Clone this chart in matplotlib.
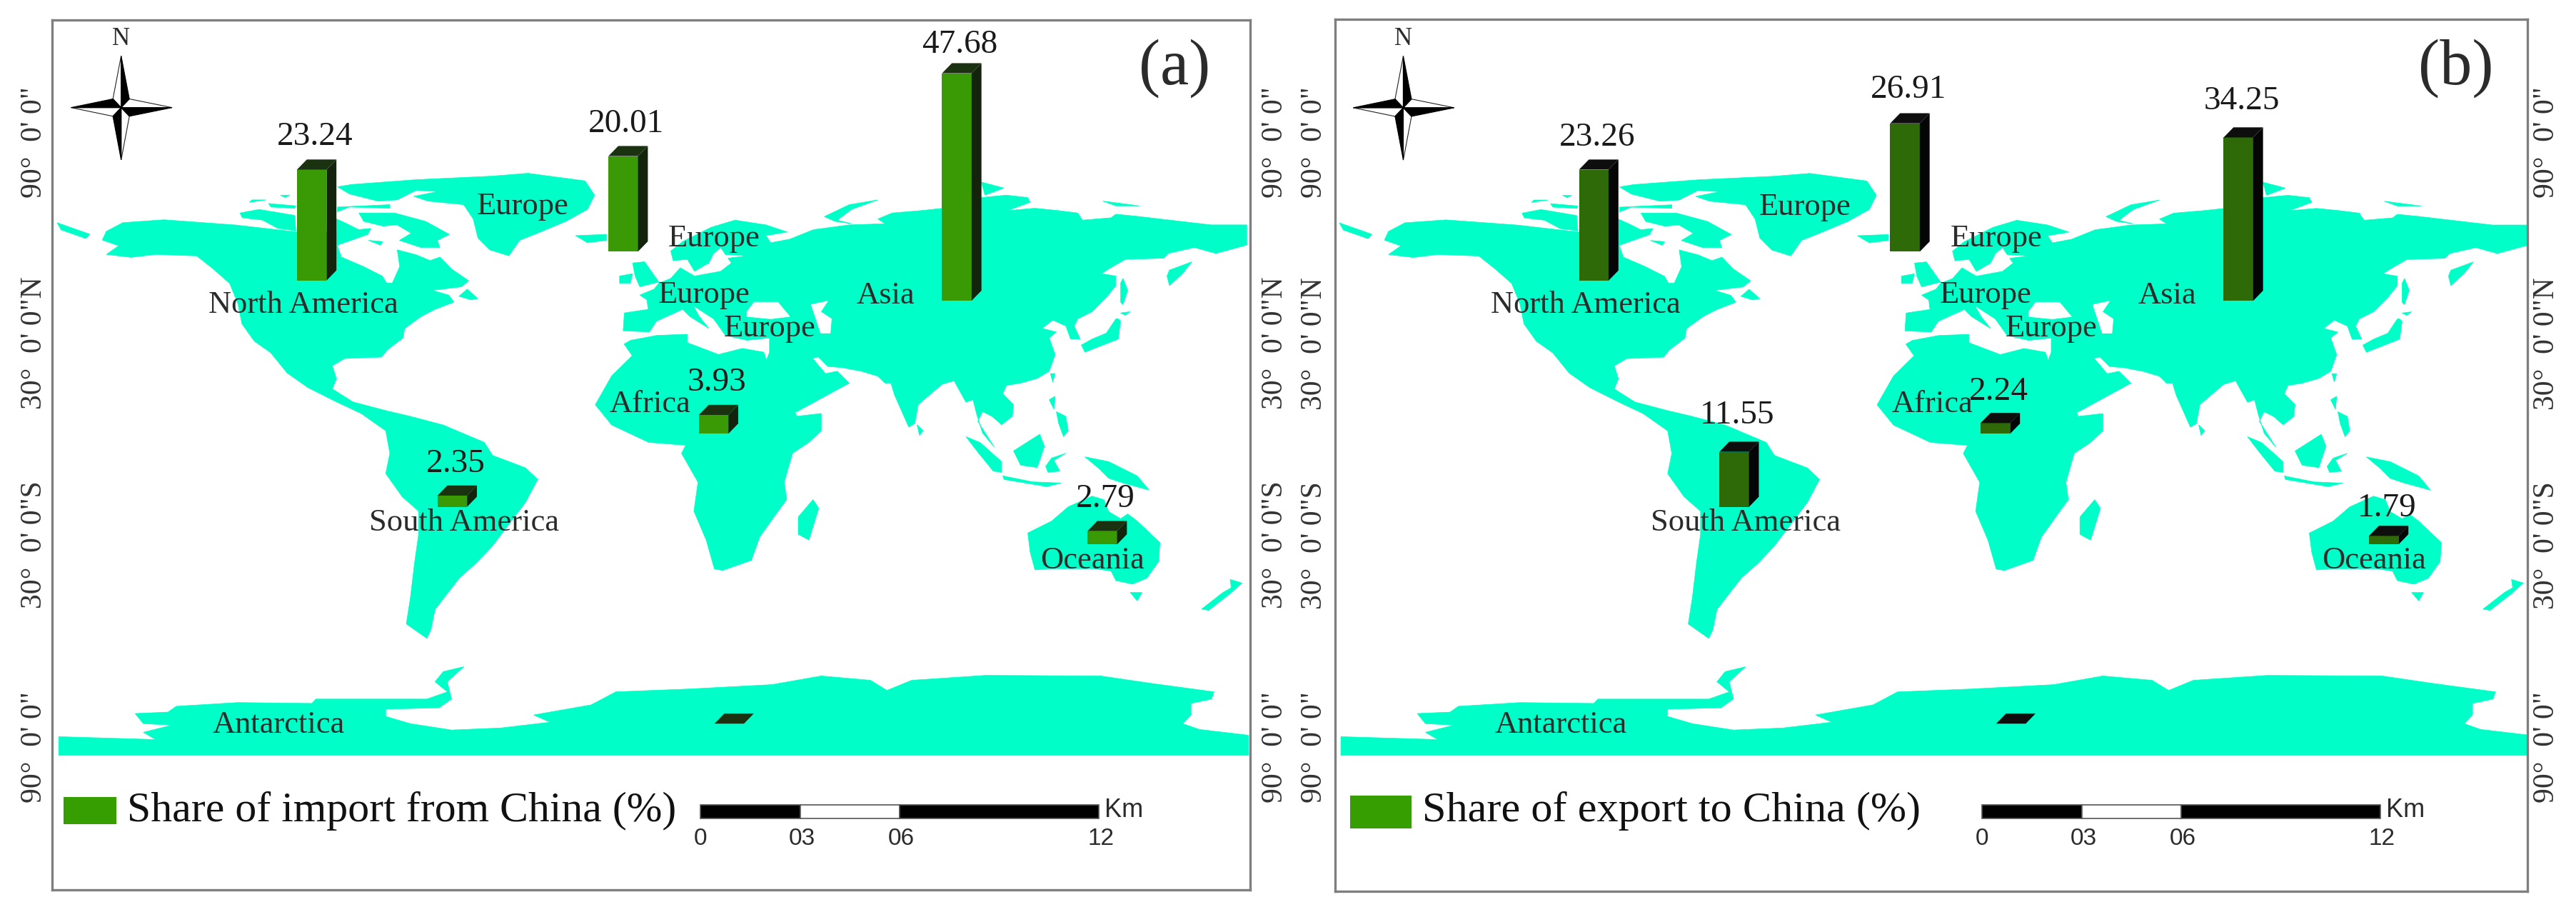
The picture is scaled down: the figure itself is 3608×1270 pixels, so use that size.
import matplotlib
matplotlib.use("Agg")
import matplotlib.pyplot as plt
from matplotlib.patches import Polygon, Rectangle

plt.rcParams["font.family"] = ["Liberation Serif", "DejaVu Serif"]

# chart values
regions = ["North America", "Europe", "Asia", "Africa", "South America", "Oceania", "Antarctica"]
import_share = [23.24, 20.01, 47.68, 3.93, 2.35, 2.79, 0.0]
export_share = [23.26, 26.91, 34.25, 2.24, 11.55, 1.79, 0.0]
import_labels = ["23.24", "20.01", "47.68", "3.93", "2.35", "2.79", ""]
export_labels = ["23.26", "26.91", "34.25", "2.24", "11.55", "1.79", ""]
lat_labels = ["90°  0' 0\"", "30°  0' 0\"N", "30°  0' 0\"S", "90°  0' 0\""]
scale_labels = ["0", "03", "06", "12"]
scale_stops = [0, 3, 6, 12]
place_names = ["North America", "Europe", "Europe", "Europe", "Europe", "Asia", "Africa",
               "South America", "Oceania", "Antarctica"]

# map layout, units are map units of the traced outline (x 64-1522, y 69-3078)
BAR_X = [362, 741, 1147, 851, 533, 1324, 870]
BAR_BASE = [970, 870, 1040, 1500, 1753, 1883, 2503]
UNITS_PER_PCT = 16.5
BAR_W, DEPTH_X, DEPTH_Y = 36, 12, 35
LAT_Y = [492, 1187, 1885, 2585]
PLACE_X = [370, 637, 870, 857, 937, 1078, 792, 565, 1330, 340]
PLACE_Y = [1055, 715, 825, 1020, 1135, 1022, 1397, 1808, 1938, 2508]


def traced(x0, y0, pts):
    return [(0.869 * (x0 + x / 3), 2.469 * (y0 + y / 3)) for x, y in pts]


AMERICAS = [
    (130, 800), (150, 770), (200, 760), (287, 778), (361, 802), (410, 802), (410, 757), (423, 774),
    (437, 794), (452, 790), (448, 811), (411, 848), (416, 889), (443, 922), (466, 955), (471, 979),
    (478, 979), (487, 922), (484, 864), (507, 881), (524, 901), (536, 889), (550, 930), (571, 971),
    (562, 992), (527, 1004), (547, 1021), (553, 1045), (530, 1070), (513, 1095), (493, 1136),
    (491, 1169), (472, 1210), (465, 1235), (420, 1240), (405, 1265), (410, 1310), (405, 1345),
    (430, 1390), (470, 1420), (500, 1440), (540, 1470), (590, 1530), (600, 1575), (640, 1618),
    (655, 1658), (640, 1738), (600, 1888), (580, 1948), (560, 1998), (530, 2108), (525, 2178),
    (520, 2208), (495, 2158), (500, 2068), (505, 1948), (510, 1848), (510, 1768), (490, 1718),
    (470, 1638), (475, 1568), (470, 1490), (440, 1430), (410, 1390), (375, 1340), (350, 1290),
    (330, 1220), (310, 1180), (295, 1120), (290, 1050), (280, 980), (260, 930), (240, 885),
    (190, 880), (160, 890), (130, 880), (145, 850), (125, 830),
]
# crop at (330, 230)
GREENLAND = traced(330, 230, [
    (490, 85), (760, 65), (1080, 50), (1230, 38), (1470, 70), (1510, 130), (1480, 190), (1390, 240),
    (1270, 290), (1195, 320), (1150, 385), (1070, 360), (1020, 310), (1000, 230), (960, 170), (810, 155),
    (750, 135), (850, 115), (760, 110), (680, 150), (600, 155), (480, 125), (430, 95)])
ARCTIC_CANADA = [traced(330, 230, pts) for pts in [
    [(20, 205), (100, 190), (250, 215), (255, 280), (180, 270), (115, 235), (30, 225)],
    [(70, 150), (130, 150), (60, 160)],
    [(140, 165), (255, 175), (250, 185), (150, 180)],
    [(190, 130), (230, 130), (210, 140)],
    [(430, 180), (650, 170), (650, 185), (480, 180), (430, 200)],
    [(520, 205), (670, 205), (800, 240), (900, 295), (850, 320), (860, 350), (780, 350), (690, 320),
     (740, 290), (680, 255), (620, 260), (540, 240)],
    [(560, 320), (620, 325), (610, 340)],
    [(940, 555), (975, 525), (1020, 565), (990, 570)],
    [(1430, 300), (1560, 295), (1560, 320), (1480, 330)],
]]
# crop at (840, 280): Europe and the Middle East
EURASIA_WEST = traced(840, 280, [
    (1200, 100), (1050, 105), (900, 125), (800, 165), (720, 180), (700, 150), (790, 135), (700, 105),
    (570, 85), (470, 115), (350, 175), (300, 215), (310, 255), (370, 250), (400, 300), (460, 265),
    (480, 225), (510, 200), (530, 230), (620, 235), (540, 245), (555, 265), (510, 300), (400, 320),
    (340, 285), (300, 330), (250, 350), (230, 375), (170, 400), (200, 420), (205, 460), (105, 475),
    (100, 550), (210, 555), (240, 510), (350, 460), (380, 490), (460, 540), (420, 490), (395, 445),
    (480, 500), (530, 570), (620, 590), (715, 580), (715, 640), (700, 680), (820, 890), (830, 890),
    (1050, 770), (1000, 720), (950, 730), (895, 665), (920, 660), (960, 700), (1020, 705), (1100, 720),
    (1170, 741)])
# crop at (1230, 230): east and south Asia
EURASIA_EAST = traced(1230, 230, [
    (30, 920), (55, 920), (70, 970), (130, 1105), (155, 1090), (170, 1010), (270, 925), (320, 910),
    (370, 1000), (400, 990), (415, 1050), (440, 1130), (490, 1190), (420, 1080), (440, 1040), (480, 1060),
    (520, 1095), (565, 1060), (570, 1010), (525, 965), (540, 930), (600, 920), (670, 900), (720, 870),
    (745, 800), (720, 730), (750, 705), (690, 690), (735, 655), (790, 680), (810, 735), (850, 735),
    (825, 680), (840, 650), (900, 620), (960, 560), (1000, 510), (1000, 470), (940, 460), (970, 440),
    (1040, 400), (1200, 395), (1220, 375), (1330, 350), (1420, 375), (1550, 340), (1550, 255), (1400, 255),
    (1270, 240), (1100, 220), (1000, 210), (980, 225), (860, 235), (840, 205), (760, 195), (660, 185),
    (545, 195), (640, 160), (630, 140), (540, 130), (435, 140), (420, 170), (180, 195), (60, 205), (0, 230)])
ASIA_ISLANDS = [traced(1230, 230, pts) for pts in [
    [(1320, 410), (1225, 445), (1215, 470), (1225, 510), (1280, 460)],
    [(855, 760), (870, 790), (1010, 735), (1020, 660), (1010, 650), (1000, 650), (960, 710), (900, 735)],
    [(1020, 625), (1060, 620), (1040, 635)],
    [(1030, 480), (1050, 530), (1030, 590), (1020, 580), (1020, 500)],
    [(725, 880), (745, 880), (735, 915)],
    [(720, 990), (745, 975), (740, 1030)],
    [(750, 1040), (790, 1060), (800, 1120), (780, 1145), (760, 1090)],
    [(165, 1095), (190, 1120), (175, 1140)],
    [(435, 75), (530, 100), (450, 130)],
    [(945, 155), (1100, 175), (1000, 175)],
]]
EUROPE_ISLANDS = [traced(840, 280, pts) for pts in [
    [(140, 265), (190, 260), (250, 345), (170, 365), (150, 320)],
    [(85, 320), (140, 310), (130, 350), (85, 350)],
    [(945, 70), (1050, 20), (1170, 0), (1060, 40), (1000, 85), (1060, 100), (990, 90)],
]]
AFRICA = [
    (768, 1177), (800, 1160), (837, 1156), (837, 1185), (875, 1226), (904, 1205), (930, 1218), (935, 1260),
    (965, 1400), (970, 1440), (1000, 1430), (1000, 1490), (985, 1530), (965, 1568), (955, 1668), (958, 1728),
    (945, 1778), (925, 1858), (915, 1938), (880, 1973), (870, 1968), (860, 1868), (845, 1768), (850, 1668),
    (830, 1568), (835, 1540), (790, 1530), (745, 1470), (725, 1400), (745, 1300), (770, 1230), (760, 1190),
]
SOUTH_ISLANDS = [
    [(990, 1728), (997, 1758), (985, 1868), (972, 1848), (972, 1788)],
    [(70, 770), (110, 810), (105, 825), (75, 795)],
]
# crop at (1340, 560): Indonesia and Australia
OCEANIA = [traced(1340, 560, pts) for pts in [
    [(40, 155), (100, 180), (190, 260), (190, 305), (155, 300), (90, 220)],
    [(195, 320), (320, 345), (440, 350), (380, 365), (200, 335)],
    [(240, 215), (350, 145), (370, 195), (340, 285), (270, 275)],
    [(375, 280), (400, 245), (460, 225), (410, 255), (435, 300), (385, 305)],
    [(540, 240), (640, 260), (760, 320), (810, 380), (700, 350), (640, 330), (600, 290)],
    [(300, 560), (400, 510), (470, 450), (570, 405), (620, 420), (640, 470), (690, 500), (720, 480),
     (760, 510), (855, 600), (850, 680), (800, 750), (740, 775), (670, 760), (650, 720), (580, 710),
     (400, 710), (330, 715), (310, 640)],
    [(730, 810), (780, 810), (760, 845)],
    [(1150, 755), (1200, 770), (1150, 815), (1060, 885), (1030, 880), (1120, 810), (1155, 790)],
]]
ANTARCTICA = [
    (72, 2548), (190, 2558), (175, 2533), (210, 2508), (175, 2503), (165, 2468), (205, 2463),
    (215, 2443), (290, 2430), (380, 2433), (385, 2418), (470, 2418), (520, 2418), (545, 2393),
    (530, 2358), (540, 2323), (565, 2306), (545, 2358), (550, 2418), (535, 2448), (470, 2453),
    (470, 2478), (500, 2503), (550, 2525), (610, 2518), (670, 2498), (650, 2473), (720, 2438),
    (750, 2393), (840, 2383), (940, 2368), (1000, 2338), (1060, 2353), (1080, 2388), (1110, 2353),
    (1200, 2336), (1340, 2338), (1400, 2363), (1478, 2393), (1475, 2418), (1450, 2433), (1450, 2473),
    (1440, 2503), (1460, 2523), (1520, 2543), (1520, 2613), (72, 2613),
]
LAND = ([AMERICAS, GREENLAND, EURASIA_WEST + EURASIA_EAST, AFRICA, ANTARCTICA]
        + ARCTIC_CANADA + ASIA_ISLANDS + EUROPE_ISLANDS + SOUTH_ISLANDS + OCEANIA)
# inland water drawn over the land
SEAS = [traced(840, 280, pts) for pts in [
    [(620, 470), (650, 430), (750, 430), (800, 490), (720, 500), (620, 490)],
    [(890, 440), (960, 425), (930, 470), (975, 500), (970, 560), (930, 560)],
]]

LAND_COLOR = "#00FFC8"
FRAME_COLOR = "#7F7F7F"
TEXT_COLOR = "#2B2B2B"


def draw_bar(ax, x, base, value, front, side, top):
    h = value * UNITS_PER_PCT
    y = base - h
    if h > 0:
        ax.add_patch(Polygon([(x, base), (x + BAR_W, base), (x + BAR_W, y), (x, y)], color=front, lw=0, zorder=5))
        ax.add_patch(Polygon([(x + BAR_W, base), (x + BAR_W + DEPTH_X, base - DEPTH_Y),
                              (x + BAR_W + DEPTH_X, y - DEPTH_Y), (x + BAR_W, y)], color=side, lw=0, zorder=5))
    ax.add_patch(Polygon([(x, y), (x + BAR_W, y), (x + BAR_W + DEPTH_X, y - DEPTH_Y), (x + DEPTH_X, y - DEPTH_Y)],
                         color=top, lw=0, zorder=5))
    return y - DEPTH_Y


def draw_compass(ax):
    cx, cy = 148, 372
    dx, dy = 10, 30
    arms = [
        [(cx, 193), (cx + dx, cy - dy), (cx, cy)],
        [(210, cy), (cx + dx, cy + dy), (cx, cy)],
        [(cx, 553), (cx - dx, cy + dy), (cx, cy)],
        [(87, cy), (cx - dx, cy - dy), (cx, cy)],
    ]
    hollow = [
        [(cx, 193), (cx - dx, cy - dy), (cx, cy)],
        [(210, cy), (cx + dx, cy - dy), (cx, cy)],
        [(cx, 553), (cx + dx, cy + dy), (cx, cy)],
        [(87, cy), (cx - dx, cy + dy), (cx, cy)],
    ]
    for pts in hollow:
        ax.add_patch(Polygon(pts, fc="white", ec="#222222", lw=0.8, zorder=6))
    for pts in arms:
        ax.add_patch(Polygon(pts, fc="black", ec="black", lw=0.8, zorder=6))
    ax.text(cx, 135, "N", ha="center", va="center", fontsize=25, color=TEXT_COLOR)


def draw_scalebar(ax, y0):
    x0, unit = 853, (1338 - 853) / 12
    for a, b, c in zip(scale_stops[:-1], scale_stops[1:], ["black", "white", "black"]):
        ax.add_patch(Rectangle((x0 + a * unit, y0), (b - a) * unit, 46, fc=c, ec="#555555", lw=1.2, zorder=4))
    for s, lab in zip(scale_stops, scale_labels):
        ax.text(x0 + s * unit + (2 if s else 0), y0 + 116, lab, ha="center", va="center", fontsize=24,
                family="Liberation Sans", color=TEXT_COLOR)
    ax.text(1345, y0 + 18, "Km", ha="left", va="center", fontsize=26, family="Liberation Sans", color=TEXT_COLOR)


def draw_panel(fig, rect, xlim, ylim, values, labels, letter, legend, cols, swatch, legend_size, lat_x, label_dy):
    ax = fig.add_axes(rect)
    ax.set_xlim(*xlim)
    ax.set_ylim(*ylim)
    ax.set_xticks([])
    ax.set_yticks([])
    for sp in ax.spines.values():
        sp.set_color(FRAME_COLOR)
        sp.set_linewidth(2.4)

    for pts in LAND:
        ax.add_patch(Polygon(pts, fc=LAND_COLOR, ec=LAND_COLOR, lw=0.5, zorder=1))
    for pts in SEAS:
        ax.add_patch(Polygon(pts, fc="white", ec="white", lw=0.5, zorder=2))

    for name, x, y in zip(place_names, PLACE_X, PLACE_Y):
        ax.text(x, y, name, ha="center", va="center", fontsize=32, color=TEXT_COLOR, zorder=4)

    for i in range(len(regions)):
        top_y = draw_bar(ax, BAR_X[i], BAR_BASE[i], values[i], *cols)
        if labels[i]:
            ax.text(BAR_X[i] + 22, top_y + label_dy[i], labels[i], ha="center", va="center",
                    fontsize=34, color="#1A1A1A", zorder=7)

    draw_compass(ax)
    draw_scalebar(ax, 2785)

    ax.add_patch(Rectangle(swatch[:2], swatch[2], swatch[3], fc="#379E00", ec="none", zorder=3))
    ax.text(swatch[0] + swatch[2] + 13, 2806, legend, ha="left", va="center", fontsize=legend_size,
            color="#111111", zorder=4)
    ax.text(1430, 235, letter, ha="center", va="center", fontsize=65, color=TEXT_COLOR)

    for y, lab in zip(LAT_Y, lat_labels):
        for x in lat_x:
            ax.text(x, y, lab, rotation=90, ha="center", va="center", fontsize=30, color="#333333",
                    clip_on=False)


fig = plt.figure(figsize=(36.08, 12.70), dpi=100, facecolor="white")
W, H = 3608, 1270

draw_panel(fig, [73 / W, 1 - 1246 / H, 1678 / W, 1218 / H], (64, 1522), (3078, 69),
           import_share, import_labels, "(a)", "Share of import from China (%)",
           ("#3A9A06", "#14240C", "#1B3210"), (78, 2756, 64, 94), 43, (42, 1552),
           [-77, -75, -63, -77, -73, -75, 0])
draw_panel(fig, [1870 / W, 1 - 1248 / H, 1670 / W, 1221 / H], (65, 1517), (3083, 66),
           export_share, export_labels, "(b)", "Share of export to China (%)",
           ("#2E6B08", "#050505", "#0E0E0E"), (83, 2751, 75, 115), 43.4, (40, 1540),
           [-75, -80, -90, -72, -90, -60, 0])

fig.savefig("out.png", dpi=100, facecolor="white")
